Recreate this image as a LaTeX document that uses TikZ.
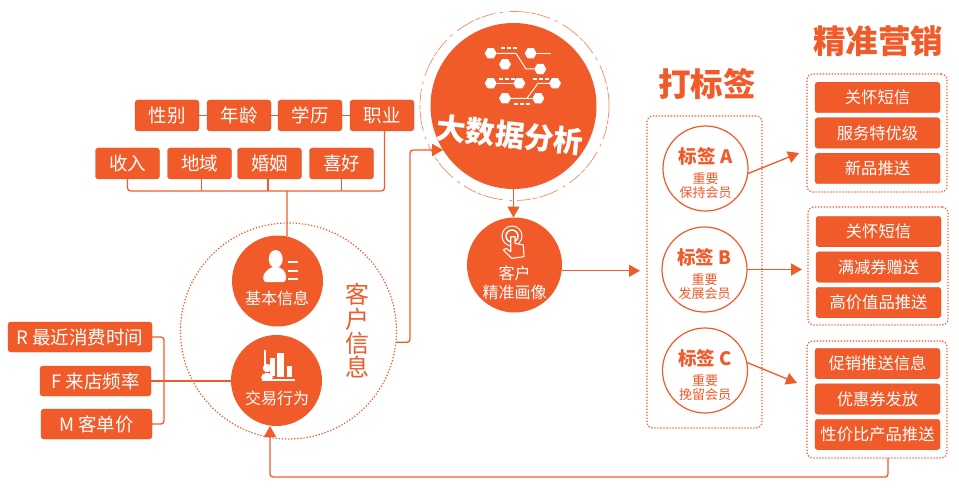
\documentclass[tikz,border=0pt]{standalone}
\usepackage{fontspec}
\setmainfont{Noto Sans CJK SC}
\usepackage{tikz}
\usetikzlibrary{shapes.geometric, arrows.meta, positioning}
\definecolor{brand}{HTML}{F15A29}
\definecolor{brandsoft}{HTML}{F58A63}
\tikzset{
  tagbtn/.style={rectangle, draw=brand!92!black, fill=brand, rounded corners=3pt, text=white,
    inner sep=0pt, outer sep=0pt, minimum width=64pt, minimum height=31pt, align=center, font=\fontsize{18.5}{20}\selectfont},
  salebtn/.style={tagbtn, minimum width=125pt, minimum height=30.5pt, font=\fontsize{16.3}{18}\selectfont},
  hub/.style={circle, fill=brand, inner sep=0pt, outer sep=0pt},
  hubtext/.style={text=white, align=center, inner sep=0pt, font=\fontsize{15.5}{19}\selectfont},
  tagring/.style={circle, draw=brand, line width=1.2pt, fill=white, inner sep=0pt, outer sep=0pt,
    minimum size=85pt, text=brand, align=center, font=\fontsize{13}{14}\selectfont},
  dotbox/.style={rectangle, draw=brand, line width=1.2pt, dash pattern=on 1.3pt off 1.7pt, rounded corners=6pt,
    inner sep=0pt, outer sep=0pt},
  title/.style={text=brand, inner sep=0pt, font=\fontsize{32.5}{34}\selectfont\bfseries},
  wire/.style={draw=brand, line width=1.3pt},
  arr/.style={wire, -{Triangle[length=11pt,width=12pt]}},
  hexdot/.style={regular polygon, regular polygon sides=6, fill=white, inner sep=0pt, minimum size=12pt},
  icon/.style={white, line width=1pt},
}

\begin{document}
\begin{tikzpicture}[x=1pt, y=-1pt]
  \useasboundingbox (0,0) rectangle (959,500);

  % Attribute boxes
  \node[tagbtn] (sex) at (167,115.5) {性别};
  \node[tagbtn, right=8pt of sex] (age) {年龄};
  \node[tagbtn, right=7pt of age] (edu) {学历};
  \node[tagbtn, right=8pt of edu] (job) {职业};
  \node[tagbtn] (income) at (127.5,163.5) {收入};
  \node[tagbtn, right=8pt of income] (region) {地域};
  \node[tagbtn, right=6pt of region] (marriage) {婚姻};
  \node[tagbtn, right=8pt of marriage] (hobby) {喜好};

  % RFM boxes
  \node[tagbtn, minimum width=144pt, minimum height=30pt] (recent) at (80,337) {R 最近消费时间};
  \node[tagbtn, minimum width=111pt, minimum height=30pt] (freq) at (95.5,381) {F 来店频率};
  \node[tagbtn, minimum width=111pt, minimum height=30pt] (price) at (96.5,424) {M 客单价};

  % Customer info
  \node[circle, draw=brand, line width=1.2pt, dash pattern=on 1.3pt off 1.8pt, minimum size=216pt, inner sep=0pt, outer sep=0pt] (info) at (288.5,331) {};
  \node[hub, minimum size=91pt] (basic) at (277.5,281) {};
  \node[hub, minimum size=91pt] (trade) at (276.5,380.5) {};
  \node[hubtext, font=\fontsize{16}{18}\selectfont] (basiclabel) at (277,298) {基本信息};
  \node[hubtext, font=\fontsize{16}{18}\selectfont] (tradelabel) at (277,398) {交易行为};
  \node[text=brand, align=center, inner sep=0pt, font=\fontsize{24}{24.3}\selectfont] (infolabel) at (357,331) {客\\户\\信\\息};

  % Big data
  \node[circle, draw=brandsoft, line width=0.7pt, dash pattern=on 14pt off 1.5pt on 5pt off 1.5pt on 20pt off 6pt on 3pt off 5pt, minimum size=189pt, inner sep=0pt, outer sep=0pt] (halo) at (514.5,106) {};
  \node[hub, minimum size=166pt] (bigdata) at (513.5,106) {};
  \node[hubtext, rotate=-6, font=\fontsize{29.5}{31}\selectfont\bfseries] (bigdatalabel) at (510,135) {大数据分析};
  \node[hub, minimum size=95pt] (portrait) at (514.5,265) {};
  \node[hubtext, font=\fontsize{16}{19}\selectfont] (portraitlabel) at (514.5,282.5) {客户\\精准画像};

  % Tags
  \node[title] (tagtitle) at (707,84) {打标签};
  \node[dotbox, minimum width=115pt, minimum height=312pt] (tagbox) at (704.5,272) {};
  \node[tagring] (taga) at (705.5,168.5) {\rule{0pt}{25pt}{\fontsize{18.5}{22}\selectfont\bfseries 标签 A}\\[6pt]重要\\保持会员};
  \node[tagring] (tagb) at (704.5,269.5) {\rule{0pt}{25pt}{\fontsize{18.5}{22}\selectfont\bfseries 标签 B}\\[6pt]重要\\发展会员};
  \node[tagring] (tagc) at (705,370.5) {\rule{0pt}{25pt}{\fontsize{18.5}{22}\selectfont\bfseries 标签 C}\\[6pt]重要\\挽留会员};

  % Marketing
  \node[title] (saletitle) at (878,41) {精准营销};
  \node[dotbox, minimum width=140pt, minimum height=118pt] (groupa) at (877,133) {};
  \node[dotbox, minimum width=140pt, minimum height=118pt] (groupb) at (878,266) {};
  \node[dotbox, minimum width=140pt, minimum height=117pt] (groupc) at (877,399.5) {};
  \node[salebtn] (carea) at (877.5,97.5) {关怀短信};
  \node[salebtn, below=5pt of carea] (vip) {服务特优级};
  \node[salebtn, below=5pt of vip] (newitem) {新品推送};
  \node[salebtn] (careb) at (878.5,231.5) {关怀短信};
  \node[salebtn, below=5pt of careb] (coupon) {满减券赠送};
  \node[salebtn, below=5pt of coupon] (premium) {高价值品推送};
  \node[salebtn] (promo) at (877.5,363.5) {促销推送信息};
  \node[salebtn, below=5pt of promo] (voucher) {优惠券发放};
  \node[salebtn, below=5pt of voucher] (value) {性价比产品推送};

  % Free ends
  \coordinate (bus) at (287,191);
  \coordinate (rfmjoin) at (164,381);
  \coordinate (turn) at (410,150);
  \coordinate (tagin) at (640,271);
  \coordinate (tipa) at (799,153);
  \coordinate (tipb) at (802,269.5);
  \coordinate (tipc) at (797,383);
  \coordinate (back) at (270,477);

  % Connectors
  \draw[wire] (sex) -- (age);
  \draw[wire] (age) -- (edu);
  \draw[wire] (edu) -- (job);
  \draw[wire, rounded corners=3pt] (income.south) |- (bus) -| ([xshift=2.5pt]job.south);
  \draw[wire] ([xshift=2pt]region.south) -- ([xshift=2pt]region.south |- bus);
  \draw[wire] ([xshift=-1.5pt]marriage.south) -- ([xshift=-1.5pt]marriage.south |- bus);
  \draw[wire] (hobby.south) -- (hobby.south |- bus);
  \draw[wire] (bus) -- (basic.78);
  \draw[wire, rounded corners=3pt] (recent.east) -| (rfmjoin) |- (price.east);
  \draw[wire] (freq.east) -- (freq.east -| trade.west);
  \draw[arr, rounded corners=3pt] (info.-6) -| (turn) -- (bigdata.212);
  \draw[arr] (bigdata.south) -- (bigdata.south |- portrait.north);
  \draw[arr] (portrait.-7) -- (portrait.-7 -| tagin);
  \draw[arr] (taga.-7) -- (tipa);
  \draw[arr] (tagb.east) -- (tipb);
  \draw[arr] (tagc.11) -- (tipc);
  \draw[arr, rounded corners=3pt] ([xshift=11pt]groupc.south) |- (back) -- (trade.south -| back);

  % Network icon
  \foreach \i/\x/\y in {1/490.7/53.3, 2/530.7/53.3, 3/505/64.3, 4/540.3/69, 5/490.7/83.3, 6/519.3/83.3, 7/555/83.3, 8/505/98.3, 9/538.3/98.3}
    \node[hexdot] (hex\i) at (\x,\y) {};
  \coordinate (benda) at (516,53.3);
  \coordinate (bendb) at (526,69);
  \coordinate (bendc) at (527,98.3);
  \coordinate (bendd) at (538,83.3);
  \draw[icon] (hex1) -- (benda) -- (bendb) -- (hex4);
  \draw[icon] (hex2) -- (549,53.3);
  \draw[icon] (hex5) -- (hex6);
  \draw[icon] (hex8) -- (bendc) -- (bendd) -- (hex7);
  \draw[icon] (hex8) -- (hex9);
  \foreach \x/\y in {503/48, 509/48, 515/48, 549/53.3, 501/79, 507/79, 513/79, 535/79, 541/79, 547/79, 516/104, 522/104, 528/104}
    \fill[white] (\x-2,\y-0.6) rectangle (\x+2,\y+0.6);

  % Person icon
  \fill[white] (275.7,259) ellipse[x radius=7pt, y radius=9pt];
  \fill[white, rounded corners=3pt] (263.3,282) -- (263.3,274) -- (271,267) -- (280,267) -- (286,273) -- (286,282) -- cycle;
  \foreach \y in {262,271,279}
    \fill[white] (288,\y-1.2) rectangle (298,\y+1.2);

  % Bars icon
  \fill[white] (264,350) rectangle (266,365);
  \fill[white] (270,358) rectangle (274.5,376);
  \fill[white] (277,353) rectangle (284,377);
  \fill[white] (287,366) rectangle (292,377);
  \fill[white] (262,379) rectangle (295,381);
  \fill[white] (267,368) circle[radius=4.2pt];
  \fill[white, rounded corners=2pt] (261,379) -- (261,376) -- (264,373) -- (270,373) -- (273,376) -- (273,379) -- cycle;

  % Touch icon
  \draw[icon] (512,236) circle[radius=10pt];
  \draw[icon, line width=1.5pt] (512,236) circle[radius=6pt];
  \filldraw[draw=white, fill=brand, line width=1.1pt, line join=round] (510.7,236.7) -- (515,236.7) -- (515,243.3) -- (523.3,245) -- (524,256.7) -- (511.7,258.3) -- (503.3,250) -- (506,248.3) -- (510.7,251.7) -- cycle;
\end{tikzpicture}
\end{document}
